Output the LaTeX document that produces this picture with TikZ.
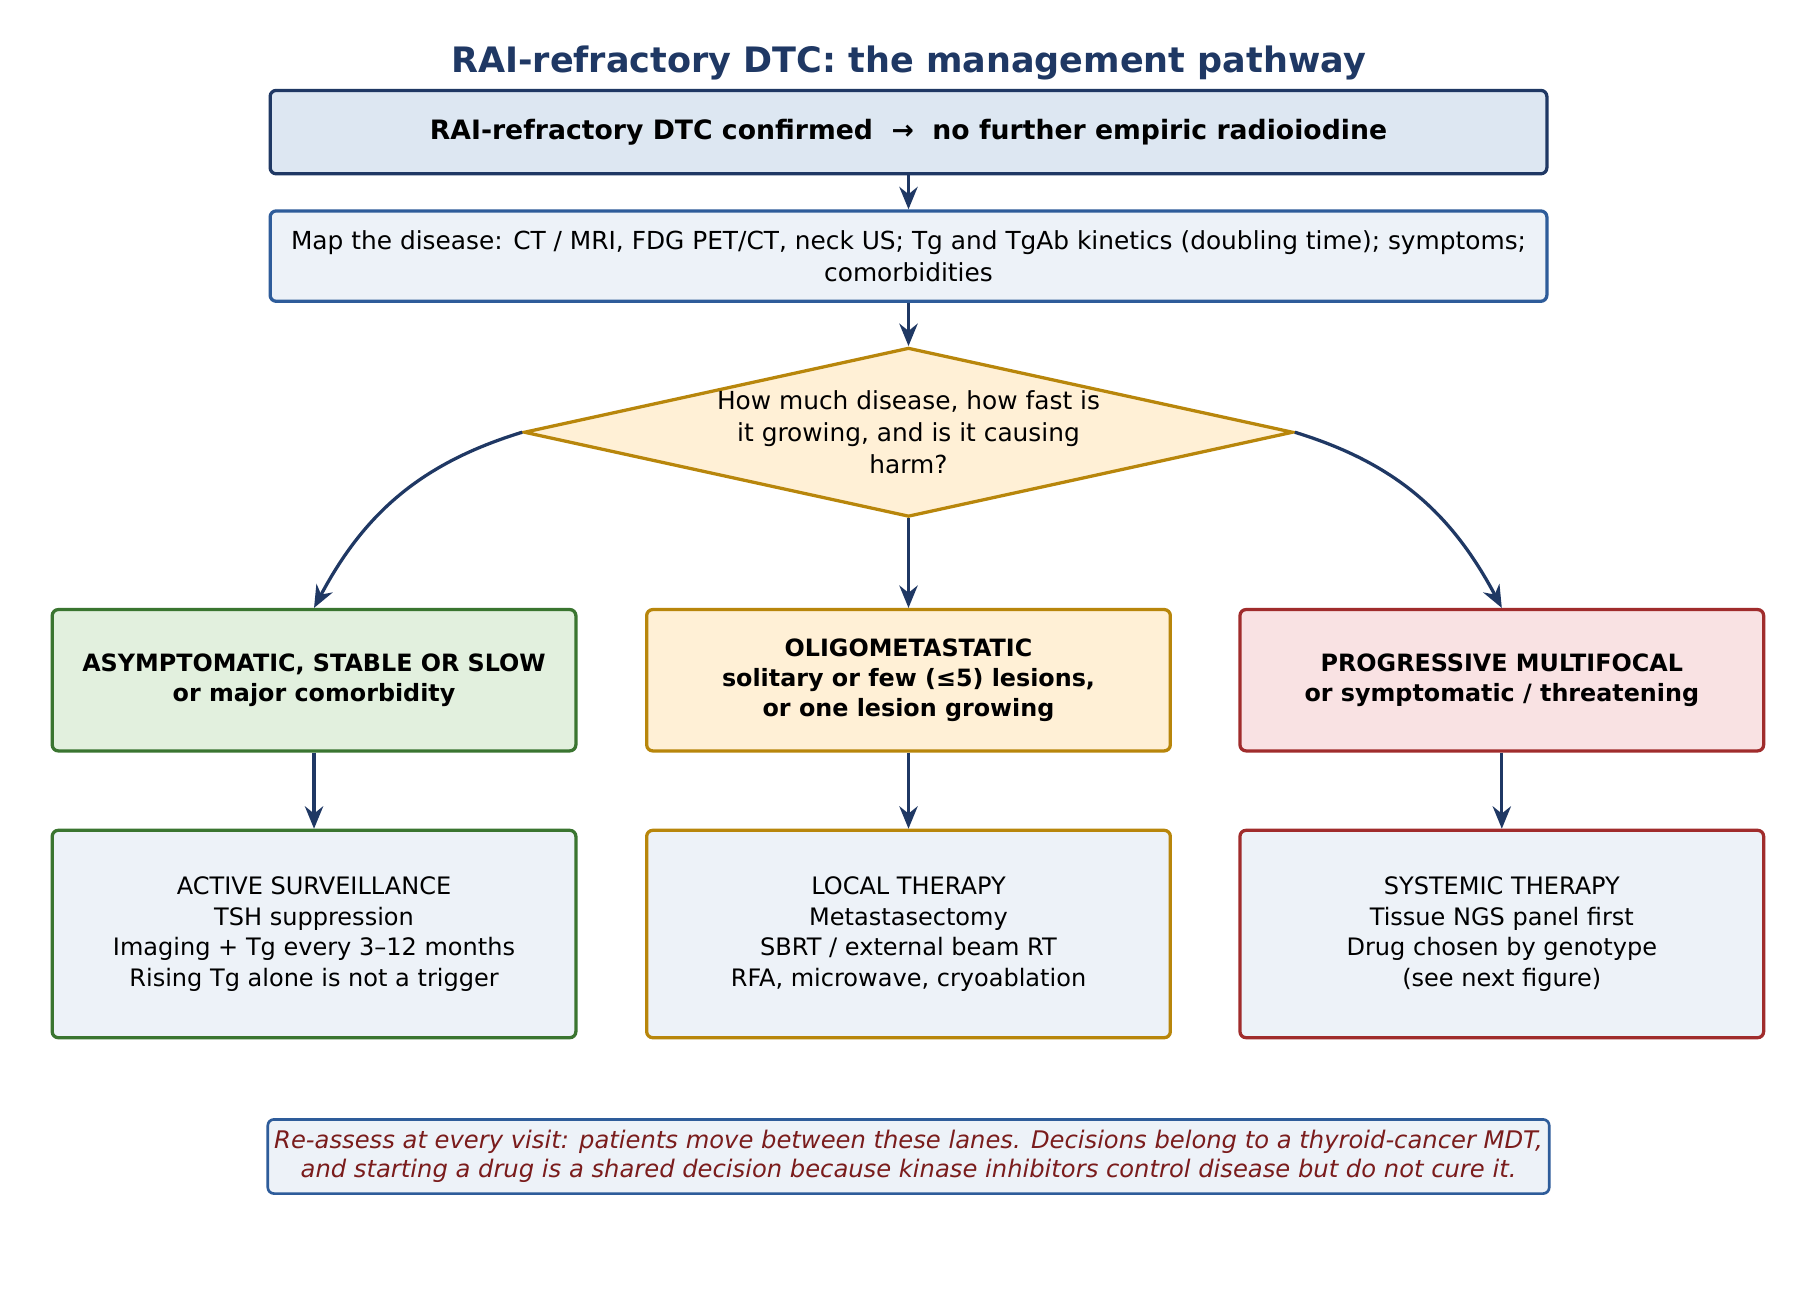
\documentclass[tikz,border=0pt]{standalone}
\usepackage{fontspec}
\setmainfont{DejaVu Sans}
\usetikzlibrary{shapes.geometric,arrows.meta}
\definecolor{navy}{HTML}{1F3864}
\definecolor{midblue}{HTML}{2E5C9A}
\definecolor{gold}{HTML}{B8860B}
\definecolor{leaf}{HTML}{3A7530}
\definecolor{brick}{HTML}{A02C2C}
\definecolor{paleblue}{HTML}{DDE7F2}
\definecolor{paleblue2}{HTML}{EDF2F8}
\definecolor{palegold}{HTML}{FFF0D6}
\definecolor{paleleaf}{HTML}{E2F0DE}
\definecolor{palered}{HTML}{F9E2E3}
\definecolor{footred}{HTML}{7A1C1C}
\begin{document}
\begin{tikzpicture}[x=0.02cm,y=-0.02cm]
      \tikzstyle{txt} = [font=\fontsize{12.2}{15.5}\selectfont, align=center]
      \tikzstyle{box} = [draw, line width=1.6pt, rounded corners=3pt, txt, inner sep=2pt]
      \tikzstyle{mid} = [box, minimum width=9.04cm, minimum height=2.44cm, font=\bfseries\fontsize{11.7}{14.8}\selectfont]
      \tikzstyle{low} = [box, fill=paleblue2, minimum width=9.04cm, minimum height=3.58cm, font=\fontsize{11.8}{15}\selectfont]
      \tikzstyle{arr} = [draw=navy, line width=1.6pt, -{Stealth[length=11pt,width=9pt]}]
      \useasboundingbox[fill=white] (0,0) rectangle (1568,1120);
      % header
      \node[font=\bfseries\fontsize{17.2}{20}\selectfont, text=navy] (title) at (784,54) {RAI-refractory DTC: the management pathway};
      \node[box, draw=navy, fill=paleblue, minimum width=22.04cm, minimum height=1.44cm, font=\bfseries\fontsize{13.1}{15}\selectfont] (conf) at (784,114)
        {RAI-refractory DTC confirmed \ → \ no further empiric radioiodine};
      \node[box, draw=midblue, fill=paleblue2, minimum width=22.04cm, minimum height=1.56cm] (map) at (784,221)
        {Map the disease: CT / MRI, FDG PET/CT, neck US; Tg and TgAb kinetics (doubling time); symptoms;\\comorbidities};
      % decision
      \node[diamond, draw=gold, line width=1.6pt, fill=palegold, minimum width=13.28cm, minimum height=2.92cm, inner sep=0pt] (dec) at (784,373) {};
      \node[txt] (q) at (784,373) {How much disease, how fast is\\it growing, and is it causing\\harm?};
      % lanes
      \node[mid, draw=leaf, fill=paleleaf] (slow) at (271,587) {ASYMPTOMATIC, STABLE OR SLOW\\or major comorbidity};
      \node[mid, draw=gold, fill=palegold] (oligo) at (784,587) {OLIGOMETASTATIC\\solitary or few (≤5) lesions,\\or one lesion growing};
      \node[mid, draw=brick, fill=palered] (prog) at (1296,587) {PROGRESSIVE MULTIFOCAL\\or symptomatic / threatening};
      \node[low, draw=leaf] (surv) at (271,806) {ACTIVE SURVEILLANCE\\TSH suppression\\Imaging + Tg every 3–12 months\\Rising Tg alone is not a trigger};
      \node[low, draw=gold] (local) at (784,806) {LOCAL THERAPY\\Metastasectomy\\SBRT / external beam RT\\RFA, microwave, cryoablation};
      \node[low, draw=brick] (sys) at (1296,806) {SYSTEMIC THERAPY\\Tissue NGS panel first\\Drug chosen by genotype\\(see next figure)};
      \node[box, draw=midblue, fill=paleblue2, line width=1.3pt, minimum width=22.12cm, minimum height=1.28cm, text=footred, font=\itshape\fontsize{11.9}{14.5}\selectfont] (note) at (784,998)
        {Re-assess at every visit: patients move between these lanes. Decisions belong to a thyroid-cancer MDT,\\and starting a drug is a shared decision because kinase inhibitors control disease but do not cure it.};
      % connectors
      \path[arr] (conf) -- (map);
      \path[arr] (map) -- (dec);
      \path[arr] (dec) -- (oligo);
      \path[arr] (dec.west) to[out=197, in=62] (slow.north);
      \path[arr] (dec.east) to[out=-17, in=118] (prog.north);
      \path[arr] (slow) -- (surv);
      \path[arr] (oligo) -- (local);
      \path[arr] (prog) -- (sys);
\end{tikzpicture}
\end{document}
